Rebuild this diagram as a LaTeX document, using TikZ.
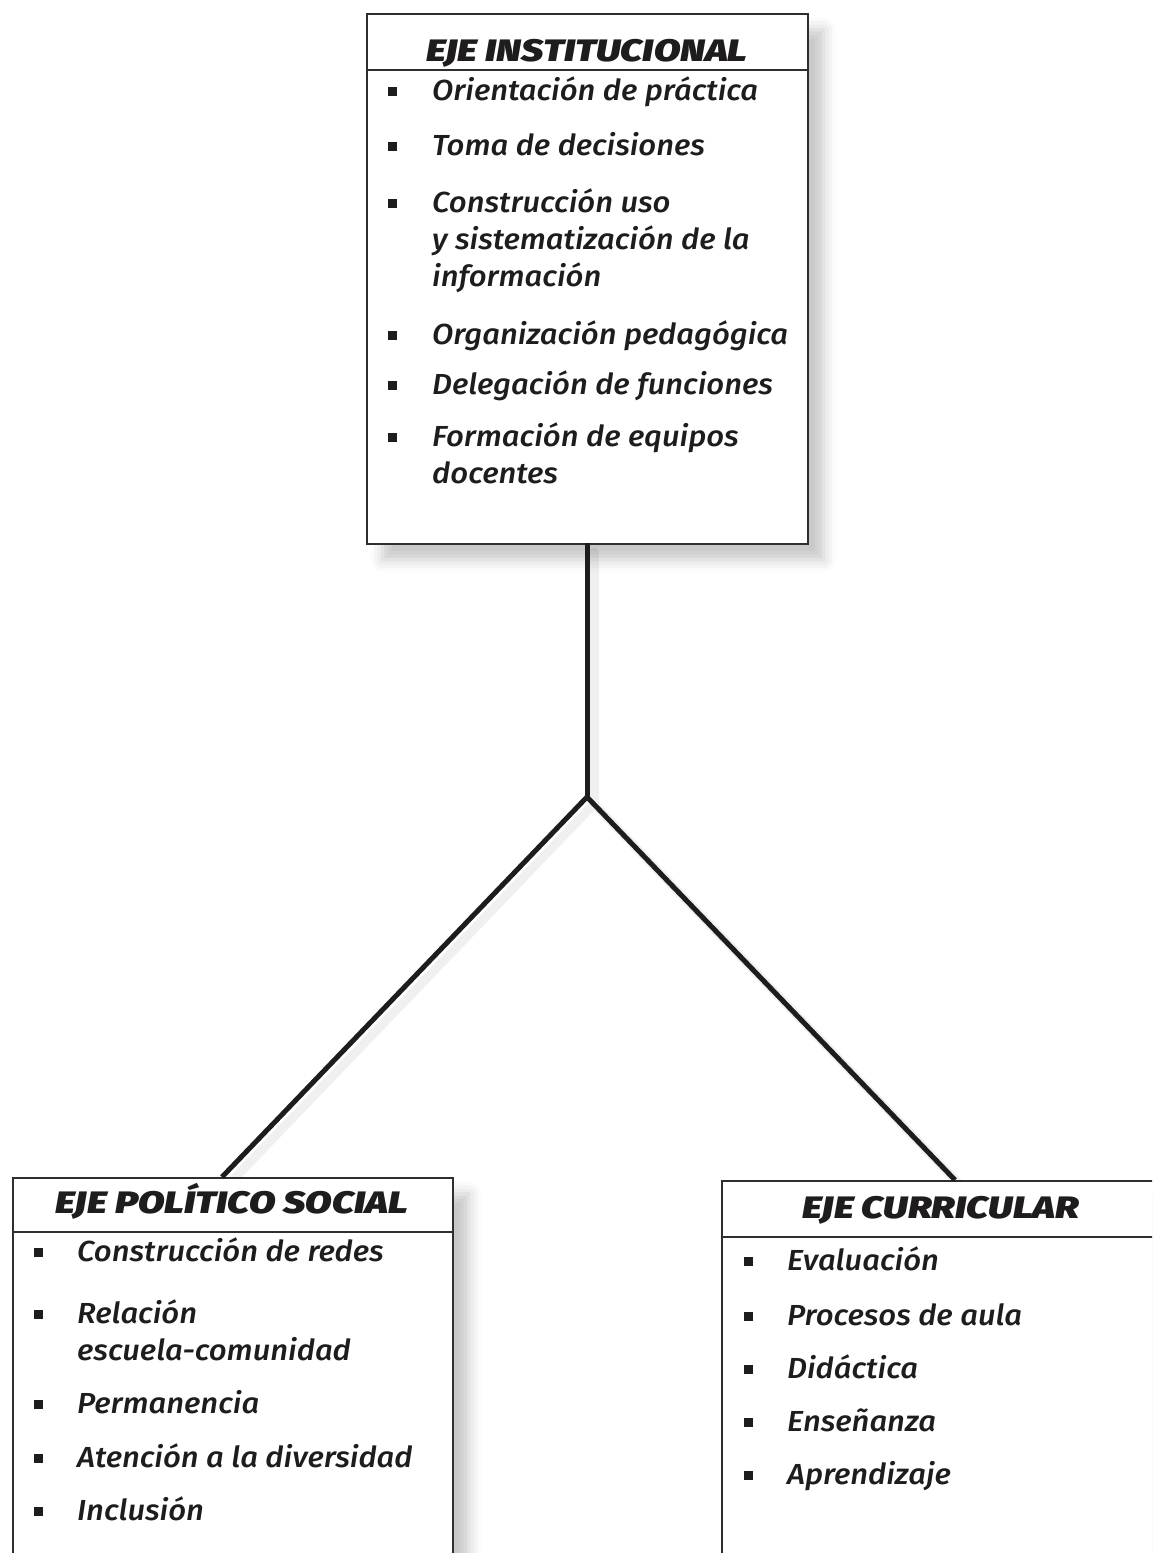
\documentclass[tikz,border=0pt]{standalone}
\usepackage{fontspec}
\usetikzlibrary{shadows.blur}
\newfontfamily\bodyfont{Fira Sans Medium Italic}[FakeStretch=1.07]
\newfontfamily\headfont{Fira Sans Black Italic}[FakeStretch=1.25]
\definecolor{ink}{HTML}{1E1C1D}
\definecolor{edge}{HTML}{2E2E2E}
\tikzset{
  boxnode/.style={draw=edge, line width=1.5pt, fill=white, rectangle, inner sep=0pt, anchor=north west,
    blur shadow={shadow xshift=16pt, shadow yshift=-16pt, shadow blur radius=12pt, shadow opacity=22}},
  headtxt/.style={font=\headfont\fontsize{31}{36}\selectfont, text=ink, anchor=base, inner sep=0pt},
  itemtxt/.style={font=\bodyfont\fontsize{29}{36}\selectfont, text=ink, anchor=base west, inner sep=0pt},
  bul/.style={fill=ink, rectangle, minimum width=9pt, minimum height=9pt, inner sep=0pt},
  conn/.style={draw=ink, line width=5pt},
  connshadow/.style={draw=black!6, line width=9pt, line cap=round}
}
\begin{document}
\begin{tikzpicture}[x=1pt,y=-1pt]
\useasboundingbox (0,0) rectangle (1152,1553);
\clip (0,0) rectangle (1152,1553);

% connectors
\coordinate (j) at (587,797);
\coordinate (pe) at (222,1177);
\coordinate (ce) at (955,1180);
\coordinate (ie) at (587,543);
\coordinate (js) at (594,804);
\draw[connshadow] (594,552) -- (js);
\draw[connshadow] (js) -- (229,1184);
\draw[connshadow] (js) -- (962,1187);

% boxes
\node[boxnode, minimum width=441pt, minimum height=530pt] (inst) at (366,13) {};
\node[boxnode, minimum width=440pt, minimum height=430pt] (pol) at (12,1177) {};
\node[boxnode, minimum width=440pt, minimum height=430pt] (cur) at (721,1180) {};

\draw[conn] (ie) -- (j);
\draw[conn] (j) -- (pe);
\draw[conn] (j) -- (ce);

\draw[draw=edge, line width=1.5pt] (inst.west |- 0,70) -- (inst.east |- 0,70);
\draw[draw=edge, line width=1.5pt] (pol.west |- 0,1232) -- (pol.east |- 0,1232);
\draw[draw=edge, line width=1.5pt] (cur.west |- 0,1237) -- (cur.east |- 0,1237);

% headers
\node[headtxt] (h1) at (587,61) {EJE INSTITUCIONAL};
\node[headtxt] (h2) at (232,1213) {EJE POLÍTICO SOCIAL};
\node[headtxt] (h3) at (941,1218) {EJE CURRICULAR};

% top items
\node[bul] (b11) at (392,91) {};
\node[itemtxt] (t11) at (432,100) {Orientación de práctica};
\node[bul] (b12) at (392,146) {};
\node[itemtxt] (t12) at (432,155) {Toma de decisiones};
\node[bul] (b13) at (392,203) {};
\node[itemtxt] (t13a) at (432,212) {Construcción uso};
\node[itemtxt] (t13b) at (432,249) {y sistematización de la};
\node[itemtxt] (t13c) at (432,286) {información};
\node[bul] (b14) at (392,335) {};
\node[itemtxt] (t14) at (432,344) {Organización pedagógica};
\node[bul] (b15) at (392,385) {};
\node[itemtxt] (t15) at (432,394) {Delegación de funciones};
\node[bul] (b16) at (392,437) {};
\node[itemtxt] (t16a) at (432,446) {Formación de equipos};
\node[itemtxt] (t16b) at (432,483) {docentes};

% left items
\node[bul] (b21) at (38,1252) {};
\node[itemtxt] (t21) at (77,1261) {Construcción de redes};
\node[bul] (b22) at (38,1314) {};
\node[itemtxt] (t22a) at (77,1323) {Relación};
\node[itemtxt] (t22b) at (77,1360) {escuela-comunidad};
\node[bul] (b23) at (38,1404) {};
\node[itemtxt] (t23) at (77,1413) {Permanencia};
\node[bul] (b24) at (38,1458) {};
\node[itemtxt] (t24) at (77,1467) {Atención a la diversidad};
\node[bul] (b25) at (38,1511) {};
\node[itemtxt] (t25) at (77,1520) {Inclusión};

% right items
\node[bul] (b31) at (748,1261) {};
\node[itemtxt] (t31) at (787,1270) {Evaluación};
\node[bul] (b32) at (748,1316) {};
\node[itemtxt] (t32) at (787,1325) {Procesos de aula};
\node[bul] (b33) at (748,1369) {};
\node[itemtxt] (t33) at (787,1378) {Didáctica};
\node[bul] (b34) at (748,1422) {};
\node[itemtxt] (t34) at (787,1431) {Enseñanza};
\node[bul] (b35) at (748,1475) {};
\node[itemtxt] (t35) at (787,1484) {Aprendizaje};
\end{tikzpicture}
\end{document}
